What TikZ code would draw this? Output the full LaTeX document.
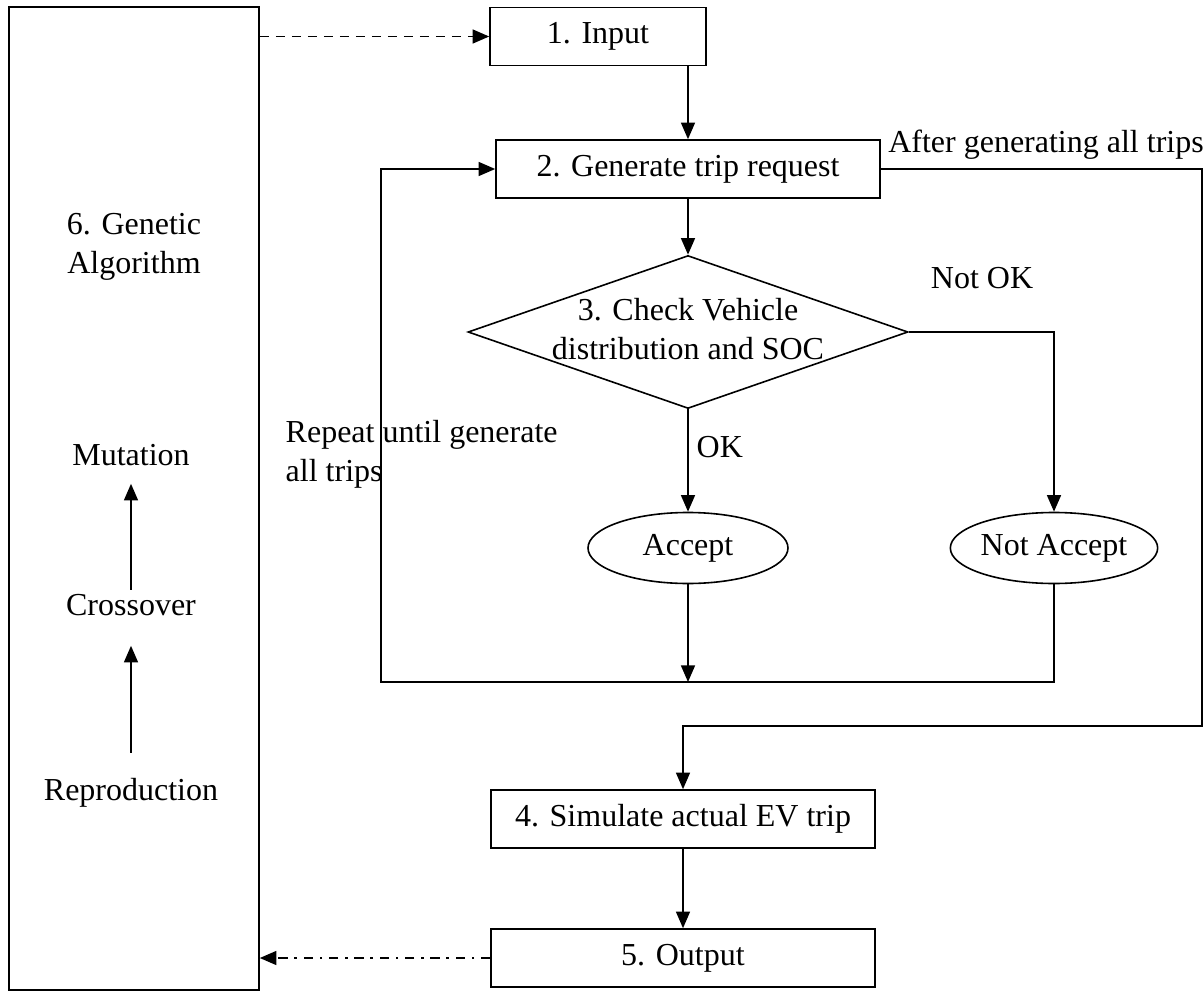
\documentclass[tikz,border=0pt]{standalone}
\usepackage{fontspec}
\setmainfont{Liberation Serif}
\usetikzlibrary{shapes.geometric,arrows.meta}

\begin{document}
\begin{tikzpicture}[x=0.75pt,y=0.75pt,yscale=-1,xscale=1,
  font=\fontsize{24}{29}\selectfont,
  box/.style={draw,line width=1.2pt,minimum width=#1,minimum height=43.5pt},
  decision/.style={draw,diamond,line width=1.2pt,inner sep=0pt,minimum width=330pt,minimum height=114.75pt},
  oval/.style={draw,ellipse,line width=1.2pt,inner sep=0pt,minimum width=150pt,minimum height=53.25pt},
  arr/.style={line width=1.3pt,-{Triangle[length=12.5pt,width=10.5pt]}}
]
\useasboundingbox (0,0) rectangle (1204,992);

%Shape: Rectangle [genetic algorithm]
\node [box=187.5pt,minimum height=737.25pt] (ga) at (134,498.5) {};

% Text Node
\node [align=center] (gatitle) at (134,247) {6. Genetic\\Algorithm};
% Text Node
\node (mutation) at (131,455) {Mutation};
% Text Node
\node (crossover) at (131,605) {Crossover};
% Text Node
\node (reproduction) at (131,793) {Reproduction};

%Straight Lines
\draw [arr] (crossover.north) -- ([yshift=10pt]mutation.south);
%Straight Lines
\draw [arr] ([yshift=-15.75pt]reproduction.north) -- ([yshift=19pt]crossover.south);

%Shape: Rectangle
\node [box=162pt] (input) at (598,36.5) {1. Input};
%Shape: Rectangle
\node [box=288pt] (gen) at (688,169) {2. Generate trip request};
%Shape: Diamond
\node [decision] (check) at (688,332) {};
% Text Node
\node [align=center] (checktext) at (688,329) {3. Check Vehicle\\distribution and SOC};
%Shape: Ellipse
\node [oval] (accept) at (688,548) {Accept};
%Shape: Ellipse
\node [oval] (notaccept) at (1054,548) {Not Accept};
%Shape: Rectangle
\node [box=288pt] (sim) at (683,819) {4. Simulate actual EV trip};
%Shape: Rectangle
\node [box=288pt] (out) at (683,958) {5. Output};

% Text Node
\node (notok) at (982,278) {Not OK};
% Text Node
\node [anchor=west] (ok) at (692,447) {OK};
% Text Node
\node [anchor=west,align=left] (repeat) at (281,454) {Repeat until generate\\all trips};
% Text Node
\node (after) at (1046,145) {After generating all trips};

\coordinate (loopcorner) at (381,682);
\coordinate (rightcorner) at (1202,726);

%Straight Lines
\draw [arr,dash pattern=on 7pt off 5pt] (ga.east |- input) -- (input.west);
%Straight Lines
\draw [arr] (input.south -| gen.north) -- (gen.north);
%Straight Lines
\draw [arr] (gen.south) -- (check.north);
%Straight Lines
\draw [arr] (check.south) -- (accept.north);
%Straight Lines
\draw [arr] (check.east) -| (notaccept.north);
%Straight Lines
\draw [arr] (accept.south) -- (accept.south |- loopcorner);
%Straight Lines
\draw [arr] (notaccept.south) |- (loopcorner) |- (gen.west);
%Straight Lines
\draw [arr] (gen.east) -| (rightcorner) -| (sim.north);
%Straight Lines
\draw [arr] (sim.south) -- (out.north);
%Straight Lines
\draw [arr,dash pattern=on 7pt off 5pt on 2pt off 5pt] (out.west) -- (ga.east |- out.west);

\end{tikzpicture}
\end{document}
